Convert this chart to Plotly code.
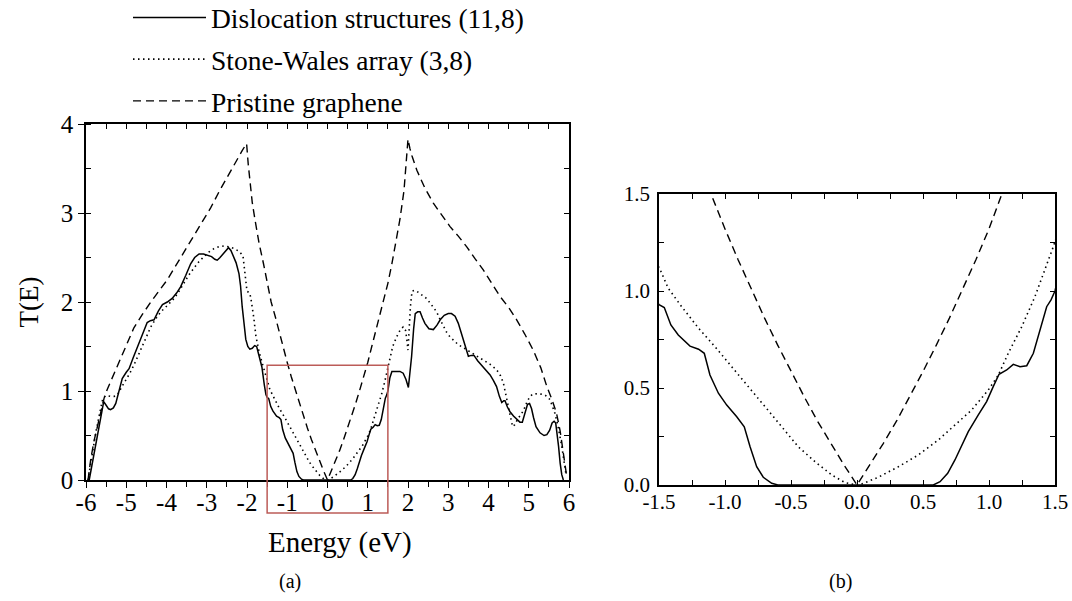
import plotly.graph_objects as go

# ---------------- data ----------------
E_pristine = [-5.95, -5.88, -5.80, -5.72, -5.63, -5.55, -5.47, -5.26, -5.01, -4.81, -4.60, -4.39,
              -3.98, -3.70, -3.40, -3.17, -2.90, -2.67, -2.45, -2.26, -2.12, -2.04, -2.01, -1.97,
              -1.93, -1.87, -1.80, -1.70, -1.59, -1.50, -1.40, -1.30, -1.20, -1.10, -1.00, -0.90,
              -0.80, -0.70, -0.60, -0.50, -0.40, -0.30, -0.20, -0.10, 0.00, 0.10, 0.20, 0.30,
              0.40, 0.50, 0.60, 0.70, 0.80, 0.90, 1.00, 1.10, 1.20, 1.30, 1.40, 1.50,
              1.60, 1.70, 1.80, 1.90, 1.96, 2.00, 2.05, 2.10, 2.22, 2.42, 2.63, 2.84,
              3.04, 3.25, 3.46, 3.66, 3.87, 4.08, 4.29, 4.50, 4.70, 4.90, 5.11, 5.30,
              5.45, 5.58, 5.69, 5.78, 5.86, 5.94]
T_pristine = [0.00, 0.24, 0.44, 0.60, 0.77, 0.92, 1.02, 1.24, 1.50, 1.71, 1.86, 2.00,
              2.25, 2.46, 2.68, 2.85, 3.06, 3.26, 3.44, 3.60, 3.70, 3.76, 3.78, 3.55,
              3.37, 3.12, 2.92, 2.66, 2.43, 2.21, 2.00, 1.84, 1.66, 1.49, 1.32, 1.16,
              1.01, 0.86, 0.72, 0.585, 0.455, 0.33, 0.215, 0.105, 0.00, 0.105, 0.215, 0.33,
              0.455, 0.585, 0.72, 0.86, 1.01, 1.16, 1.32, 1.50, 1.67, 1.85, 2.02, 2.21,
              2.43, 2.66, 2.93, 3.25, 3.58, 3.83, 3.72, 3.64, 3.48, 3.28, 3.11, 2.97,
              2.85, 2.74, 2.62, 2.49, 2.36, 2.21, 2.06, 1.94, 1.80, 1.64, 1.46, 1.26,
              1.05, 0.90, 0.75, 0.55, 0.30, 0.05]

E_disl = [-5.92, -5.80, -5.70, -5.62, -5.56, -5.50, -5.44, -5.39, -5.32, -5.26, -5.18, -5.10,
          -5.00, -4.93, -4.83, -4.72, -4.60, -4.48, -4.40, -4.31, -4.20, -4.10, -3.98, -3.86,
          -3.75, -3.65, -3.52, -3.40, -3.30, -3.19, -3.08, -2.99, -2.88, -2.80, -2.74, -2.67,
          -2.61, -2.53, -2.46, -2.40, -2.34, -2.27, -2.20, -2.16, -2.12, -2.08, -2.03, -1.98,
          -1.93, -1.87, -1.81, -1.76, -1.70, -1.63, -1.57, -1.53, -1.50, -1.46, -1.41, -1.354,
          -1.265, -1.20, -1.157, -1.114, -1.05, -0.987, -0.911, -0.854, -0.81, -0.76, -0.71, -0.646,
          -0.60, 0.0, 0.578, 0.629, 0.687, 0.742, 0.793, 0.843, 0.919, 0.982, 1.032, 1.076,
          1.134, 1.184, 1.235, 1.286, 1.336, 1.386, 1.437, 1.47, 1.50, 1.55, 1.60, 1.70,
          1.80, 1.88, 1.95, 2.01, 2.05, 2.09, 2.14, 2.18, 2.24, 2.30, 2.36, 2.42,
          2.52, 2.63, 2.72, 2.80, 2.90, 3.00, 3.08, 3.17, 3.25, 3.33, 3.42, 3.50,
          3.57, 3.64, 3.73, 3.83, 3.94, 4.04, 4.12, 4.20, 4.27, 4.33, 4.38, 4.41,
          4.47, 4.53, 4.62, 4.70, 4.78, 4.84, 4.91, 4.97, 5.02, 5.07, 5.12, 5.18,
          5.28, 5.38, 5.45, 5.52, 5.58, 5.63, 5.67, 5.71, 5.74, 5.78, 5.82, 5.86]
T_disl = [0.00, 0.30, 0.55, 0.74, 0.88, 0.84, 0.80, 0.79, 0.81, 0.86, 1.00, 1.14,
          1.21, 1.25, 1.37, 1.50, 1.64, 1.77, 1.79, 1.80, 1.90, 1.97, 2.00, 2.04,
          2.10, 2.17, 2.30, 2.43, 2.50, 2.54, 2.54, 2.53, 2.51, 2.48, 2.47, 2.50,
          2.53, 2.57, 2.61, 2.58, 2.52, 2.44, 2.32, 2.18, 1.95, 1.75, 1.58, 1.50,
          1.47, 1.48, 1.51, 1.50, 1.39, 1.27, 1.07, 0.96, 0.93, 0.915, 0.825, 0.773,
          0.716, 0.70, 0.679, 0.567, 0.473, 0.412, 0.352, 0.30, 0.197, 0.094, 0.04, 0.009,
          0.0, 0.0, 0.0, 0.017, 0.06, 0.129, 0.206, 0.275, 0.361, 0.43, 0.507, 0.571,
          0.593, 0.622, 0.61, 0.615, 0.679, 0.80, 0.919, 0.954, 1.00, 1.15, 1.22, 1.22,
          1.22, 1.20, 1.13, 1.04, 1.20, 1.39, 1.70, 1.87, 1.89, 1.89, 1.82, 1.76,
          1.70, 1.69, 1.74, 1.80, 1.85, 1.87, 1.87, 1.84, 1.76, 1.65, 1.52, 1.39,
          1.40, 1.40, 1.34, 1.29, 1.23, 1.18, 1.12, 1.05, 0.94, 0.87, 0.89, 0.89,
          0.82, 0.77, 0.72, 0.68, 0.65, 0.65, 0.75, 0.85, 0.86, 0.80, 0.70, 0.60,
          0.53, 0.50, 0.51, 0.56, 0.64, 0.66, 0.64, 0.52, 0.38, 0.19, 0.06, 0.00]

E_sw = [-5.95, -5.85, -5.75, -5.66, -5.58, -5.50, -5.40, -5.30, -5.22, -5.12, -5.01, -4.91,
        -4.81, -4.70, -4.60, -4.50, -4.39, -4.27, -4.14, -3.98, -3.81, -3.69, -3.57, -3.45,
        -3.32, -3.20, -3.07, -2.95, -2.82, -2.70, -2.57, -2.45, -2.32, -2.20, -2.10, -2.07,
        -2.03, -2.00, -1.96, -1.93, -1.90, -1.87, -1.83, -1.78, -1.74, -1.70, -1.62, -1.54,
        -1.49, -1.43, -1.328, -1.20, -1.076, -1.00, -0.95, -0.823, -0.697, -0.57, -0.445, -0.318,
        -0.192, -0.09, 0.00, 0.036, 0.161, 0.313, 0.465, 0.616, 0.742, 0.869, 0.995, 1.071,
        1.146, 1.248, 1.348, 1.424, 1.487, 1.55, 1.62, 1.72, 1.80, 1.88, 1.94, 1.97,
        2.00, 2.03, 2.06, 2.10, 2.16, 2.22, 2.34, 2.46, 2.58, 2.71, 2.80, 2.88,
        2.96, 3.04, 3.15, 3.25, 3.40, 3.54, 3.70, 3.87, 4.04, 4.20, 4.30, 4.37,
        4.43, 4.49, 4.55, 4.60, 4.65, 4.72, 4.80, 4.87, 4.95, 5.03, 5.12, 5.20,
        5.30, 5.40, 5.48, 5.53, 5.60, 5.65, 5.72, 5.78, 5.82, 5.86, 5.90, 5.93]
T_sw = [0.00, 0.30, 0.55, 0.75, 0.92, 0.95, 0.94, 0.94, 0.955, 1.04, 1.12, 1.20,
        1.29, 1.40, 1.50, 1.61, 1.72, 1.81, 1.89, 1.96, 2.04, 2.12, 2.21, 2.30,
        2.38, 2.45, 2.51, 2.56, 2.60, 2.62, 2.63, 2.62, 2.60, 2.57, 2.52, 2.40,
        2.20, 2.12, 2.11, 2.10, 2.03, 1.95, 1.82, 1.62, 1.52, 1.44, 1.31, 1.17,
        1.108, 1.014, 0.919, 0.808, 0.713, 0.65, 0.61, 0.507, 0.404, 0.30, 0.197, 0.12,
        0.052, 0.012, 0.0, 0.005, 0.04, 0.094, 0.155, 0.232, 0.309, 0.387, 0.49, 0.567,
        0.679, 0.816, 0.971, 1.108, 1.228, 1.36, 1.50, 1.61, 1.68, 1.72, 1.68, 1.58,
        1.46, 1.70, 1.95, 2.12, 2.13, 2.12, 2.08, 2.04, 1.97, 1.89, 1.80, 1.72,
        1.66, 1.61, 1.56, 1.52, 1.48, 1.44, 1.40, 1.35, 1.30, 1.24, 1.17, 1.09,
        0.95, 0.82, 0.70, 0.60, 0.62, 0.68, 0.73, 0.78, 0.87, 0.94, 0.97, 0.97,
        0.965, 0.955, 0.93, 0.90, 0.82, 0.75, 0.62, 0.49, 0.38, 0.26, 0.14, 0.05]

series_names = ["Dislocation structures (11,8)", "Stone-Wales array (3,8)", "Pristine graphene"]

xa_range = [-6, 6]
ya_range = [0, 4]
xa_tickvals = [-6, -5, -4, -3, -2, -1, 0, 1, 2, 3, 4, 5, 6]
xa_ticktext = ["-6", "-5", "-4", "-3", "-2", "-1", "0", "1", "2", "3", "4", "5", "6"]
ya_tickvals = [0, 1, 2, 3, 4]
ya_ticktext = ["0", "1", "2", "3", "4"]

xb_range = [-1.5, 1.5]
yb_range = [0, 1.5]
xb_tickvals = [-1.5, -1.0, -0.5, 0.0, 0.5, 1.0, 1.5]
xb_ticktext = ["-1.5", "-1.0", "-0.5", "0.0", "0.5", "1.0", "1.5"]
yb_tickvals = [0.0, 0.5, 1.0, 1.5]
yb_ticktext = ["0.0", "0.5", "1.0", "1.5"]

zoom_box_E = [-1.5, 1.5]
zoom_box_T = [-0.37, 1.29]

x_title = "Energy (eV)"
y_title = "T(E)"
panel_labels = ["(a)", "(b)"]

# ---------------- styles ----------------
FONT = "Liberation Serif, Times New Roman, serif"
W, H = 1072, 601
styles = [
    dict(color="black", width=1.5, dash="solid"),
    dict(color="black", width=1.6, dash="1.5px,3.5px"),
    dict(color="black", width=1.4, dash="8px,5px"),
]
datasets = [(E_disl, T_disl), (E_sw, T_sw), (E_pristine, T_pristine)]

fig = go.Figure()
for i, ((ex, ty), nm, st) in enumerate(zip(datasets, series_names, styles)):
    fig.add_trace(go.Scatter(x=ex, y=ty, mode="lines", name=nm, line=st,
                             xaxis="x", yaxis="y", legendgroup=f"g{i}", showlegend=True))
for i, ((ex, ty), nm, st) in enumerate(zip(datasets, series_names, styles)):
    fig.add_trace(go.Scatter(x=ex, y=ty, mode="lines", name=nm, line=st,
                             xaxis="x2", yaxis="y2", legendgroup=f"g{i}", showlegend=False))
# empty helper traces so the inward top/right tick axes of panel (a) are drawn
fig.add_trace(go.Scatter(x=[], y=[], xaxis="x3", yaxis="y", showlegend=False, hoverinfo="skip"))
fig.add_trace(go.Scatter(x=[], y=[], xaxis="x", yaxis="y3", showlegend=False, hoverinfo="skip"))

# panel geometry (pixels)
A_left, A_right, A_top, A_bot = 86, 569, 124, 480
B_left, B_right, B_top, B_bot = 659, 1055, 194, 485

def xdom(l, r):
    return [l / W, r / W]

def ydom(t, b):
    return [(H - b) / H, (H - t) / H]

axis_common = dict(showgrid=False, zeroline=False, showline=True, linecolor="black",
                   linewidth=1.5, tickcolor="black", tickwidth=1.2, automargin=False)

fig.update_layout(
    width=W, height=H,
    margin=dict(l=0, r=0, t=0, b=0, autoexpand=False),
    paper_bgcolor="white", plot_bgcolor="white",
    font=dict(family=FONT, color="black"),
    xaxis=dict(domain=xdom(A_left, A_right), range=xa_range, anchor="y",
               tickvals=xa_tickvals, ticktext=xa_ticktext, ticks="outside", ticklen=6,
               minor=dict(dtick=0.5, tick0=0, ticks="outside", ticklen=5, tickcolor="black", tickwidth=1.2),
               mirror=True, tickfont=dict(size=25, family=FONT), ticklabelstandoff=-7,
               **axis_common),
    yaxis=dict(domain=ydom(A_top, A_bot), range=ya_range, anchor="x",
               tickvals=ya_tickvals, ticktext=ya_ticktext, ticks="outside", ticklen=6,
               minor=dict(dtick=0.5, tick0=0, ticks="inside", ticklen=5, tickcolor="black", tickwidth=1.2),
               mirror=True, tickfont=dict(size=25, family=FONT),
               title=dict(text=y_title, font=dict(size=27, family=FONT), standoff=14),
               **axis_common),
    xaxis3=dict(overlaying="x", side="top", anchor="y", range=xa_range, dtick=0.5, tick0=0,
                ticks="inside", ticklen=5, tickwidth=1.2, tickcolor="black", automargin=False,
                showticklabels=False, showgrid=False, zeroline=False, showline=False),
    yaxis3=dict(overlaying="y", side="right", anchor="x", range=ya_range, dtick=0.5, tick0=0,
                ticks="inside", ticklen=5, tickwidth=1.2, tickcolor="black", automargin=False,
                showticklabels=False, showgrid=False, zeroline=False, showline=False),
    xaxis2=dict(domain=xdom(B_left, B_right), range=xb_range, anchor="y2",
                tickvals=xb_tickvals, ticktext=xb_ticktext, ticks="inside", ticklen=5,
                minor=dict(dtick=0.25, tick0=0, ticks="inside", ticklen=5, tickcolor="black", tickwidth=1.2),
                mirror="allticks", tickfont=dict(size=21, family=FONT), ticklabelstandoff=-3,
                **axis_common),
    yaxis2=dict(domain=ydom(B_top, B_bot), range=yb_range, anchor="x2",
                tickvals=yb_tickvals, ticktext=yb_ticktext, ticks="inside", ticklen=5,
                minor=dict(dtick=0.25, tick0=0, ticks="inside", ticklen=5, tickcolor="black", tickwidth=1.2),
                mirror="allticks", tickfont=dict(size=21, family=FONT), ticklabelstandoff=3,
                **axis_common),
    legend=dict(x=128 / W, y=1.0 + 7 / H, xanchor="left", yanchor="top", font=dict(size=27.5, family=FONT),
                itemwidth=73, traceorder="grouped", tracegroupgap=3,
                bgcolor="rgba(0,0,0,0)", borderwidth=0),
    showlegend=True,
)

# zoom rectangle on panel (a), positioned via axis domain fractions computed from data values
def frac(v, rng):
    return (v - rng[0]) / (rng[1] - rng[0])

fig.add_shape(type="rect", xref="x domain", yref="y domain",
              x0=frac(zoom_box_E[0], xa_range), x1=frac(zoom_box_E[1], xa_range),
              y0=frac(zoom_box_T[0], ya_range), y1=frac(zoom_box_T[1], ya_range),
              line=dict(color="rgb(188,92,88)", width=1.5), fillcolor="rgba(0,0,0,0)", layer="above")

# x-axis title of panel (a)
fig.add_annotation(text=x_title, xref="paper", yref="paper", x=340 / W, y=(H - 542) / H,
                   showarrow=False, font=dict(size=29, family=FONT), xanchor="center", yanchor="middle")

fig.add_annotation(text=panel_labels[0], xref="paper", yref="paper", x=290 / W, y=(H - 581) / H,
                   showarrow=False, font=dict(size=20, family=FONT), xanchor="center", yanchor="middle")
fig.add_annotation(text=panel_labels[1], xref="paper", yref="paper", x=840 / W, y=(H - 581) / H,
                   showarrow=False, font=dict(size=20, family=FONT), xanchor="center", yanchor="middle")

fig.write_html("out.html")
